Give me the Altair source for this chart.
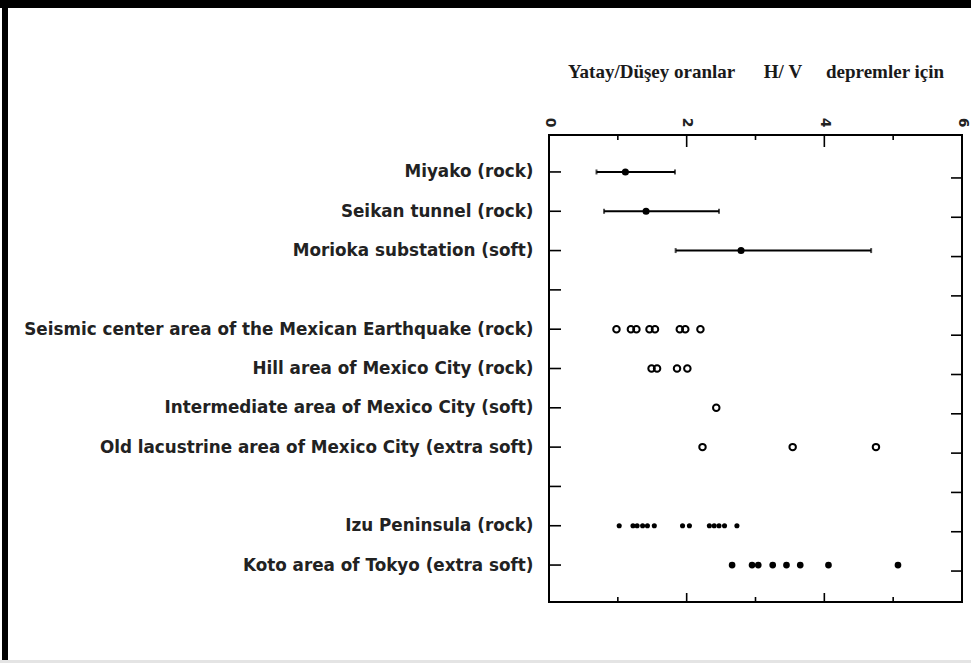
import altair as alt
import pandas as pd

# ---- data ----
rows = [
    "Miyako (rock)",
    "Seikan tunnel (rock)",
    "Morioka substation (soft)",
    " ",
    "Seismic center area of the Mexican Earthquake (rock)",
    "Hill area of Mexico City (rock)",
    "Intermediate area of Mexico City (soft)",
    "Old lacustrine area of Mexico City (extra soft)",
    "  ",
    "Izu Peninsula (rock)",
    "Koto area of Tokyo (extra soft)",
]

range_sites = ["Miyako (rock)", "Seikan tunnel (rock)", "Morioka substation (soft)"]
range_center = [1.11, 1.41, 2.79]
range_low = [0.69, 0.80, 1.84]
range_high = [1.83, 2.47, 4.68]

open_seismic = [0.98, 1.19, 1.27, 1.46, 1.54, 1.90, 1.98, 2.20]
open_hill = [1.49, 1.57, 1.86, 2.01]
open_intermediate = [2.43]
open_old = [2.23, 3.54, 4.75]

dots_izu = [1.02, 1.22, 1.28, 1.36, 1.43, 1.53, 1.94, 2.04, 2.33, 2.40, 2.47, 2.55, 2.73]
dots_koto = [2.66, 2.95, 3.04, 3.25, 3.45, 3.65, 4.06, 5.07]

axis_labels = [0, 2, 4, 6]
major_ticks = [2, 4]
minor_ticks = [1, 3, 5]

NB = "\u00a0"
x_title = "Yatay/Düşey oranlar" + NB * 6 + "H/" + NB + "V" + NB * 5 + "depremler için"

# ---- tables ----
W, H = 413, 467
PAD_L, PAD_T = 549, 135

ranges = pd.DataFrame({"site": range_sites, "center": range_center,
                       "low": range_low, "high": range_high})
ends = pd.DataFrame({"site": range_sites * 2, "low": range_low + range_high})

open_df = pd.DataFrame({
    "site": ([rows[4]] * len(open_seismic) + [rows[5]] * len(open_hill)
             + [rows[6]] * len(open_intermediate) + [rows[7]] * len(open_old)),
    "low": open_seismic + open_hill + open_intermediate + open_old,
})
izu_df = pd.DataFrame({"site": [rows[9]] * len(dots_izu), "low": dots_izu})
koto_df = pd.DataFrame({"site": [rows[10]] * len(dots_koto), "low": dots_koto})
rows_df = pd.DataFrame({"site": rows})
major_df = pd.DataFrame({"low": major_ticks})
minor_df = pd.DataFrame({"low": minor_ticks})
one = pd.DataFrame({"a": [0]})

xscale = alt.Scale(domain=[0, 6], nice=False, zero=False)
yscale = alt.Scale(domain=rows, type="point", padding=0.94)

x_axis = alt.Axis(
    orient="top", values=axis_labels, labelAngle=90, ticks=False, tickSize=0,
    domain=False, grid=False, labelFont="DejaVu Sans", labelFontSize=14,
    labelFontWeight="bold", labelColor="#222", labelPadding=8, title=x_title,
    titleFont="Liberation Serif", titleFontSize=19, titleFontWeight="bold",
    titleColor="#1a1a1a", titlePadding=36,
)
y_axis = alt.Axis(
    title=None, ticks=False, tickSize=0, domain=False, grid=False,
    labelFont="DejaVu Sans", labelFontSize=16.8, labelFontWeight="bold",
    labelColor="#222", labelPadding=16, labelLimit=700,
)

X = alt.X("low:Q", scale=xscale, axis=x_axis)
Y = alt.Y("site:N", scale=yscale, sort=rows, axis=y_axis)

range_lines = alt.Chart(ranges).mark_rule(color="black", strokeWidth=2).encode(
    x=X, x2="high:Q", y=Y,
)
range_caps = alt.Chart(ends).mark_tick(color="black", size=5, thickness=2).encode(x=X, y=Y)
range_dots = alt.Chart(ranges).mark_circle(color="black", size=50, opacity=1).encode(
    x=alt.X("center:Q", scale=xscale, axis=x_axis), y=Y,
)
open_pts = alt.Chart(open_df).mark_point(
    shape="circle", filled=False, color="black", size=42, strokeWidth=2, opacity=1
).encode(x=X, y=Y)
izu_pts = alt.Chart(izu_df).mark_circle(color="black", size=26, opacity=1).encode(x=X, y=Y)
koto_pts = alt.Chart(koto_df).mark_circle(color="black", size=45, opacity=1).encode(x=X, y=Y)

left_ticks = alt.Chart(rows_df).mark_rule(color="black", strokeWidth=1.6).encode(
    y=Y, x=alt.value(0), x2=alt.value(12),
)
right_ticks = alt.Chart(rows_df).mark_rule(color="black", strokeWidth=1.6, yOffset=6).encode(
    y=Y, x=alt.value(W - 11), x2=alt.value(W),
)
top_major = alt.Chart(major_df).mark_rule(color="black", strokeWidth=1.6).encode(
    x=X, y=alt.value(0), y2=alt.value(12))
top_minor = alt.Chart(minor_df).mark_rule(color="black", strokeWidth=1.6).encode(
    x=X, y=alt.value(0), y2=alt.value(5))
bot_major = alt.Chart(major_df).mark_rule(color="black", strokeWidth=1.6).encode(
    x=X, y=alt.value(H), y2=alt.value(H - 9))
bot_minor = alt.Chart(minor_df).mark_rule(color="black", strokeWidth=1.6).encode(
    x=X, y=alt.value(H), y2=alt.value(H - 5))

# scanned-page frame
frame_top = alt.Chart(one).mark_rect(color="black").encode(
    x=alt.value(-PAD_L), x2=alt.value(971 - PAD_L),
    y=alt.value(-PAD_T), y2=alt.value(-PAD_T + 8))
frame_left = alt.Chart(one).mark_rect(color="black").encode(
    x=alt.value(-PAD_L + 2), x2=alt.value(-PAD_L + 8),
    y=alt.value(-PAD_T), y2=alt.value(663 - PAD_T))
frame_bottom = alt.Chart(one).mark_rect(color="#e4e4e4").encode(
    x=alt.value(-PAD_L), x2=alt.value(971 - PAD_L),
    y=alt.value(660 - PAD_T), y2=alt.value(663 - PAD_T))

chart = alt.layer(
    range_lines, range_caps, range_dots, open_pts, izu_pts, koto_pts,
    left_ticks, right_ticks, top_major, top_minor, bot_major, bot_minor,
    frame_top, frame_left, frame_bottom,
).properties(
    width=W, height=H,
    padding={"left": PAD_L, "top": PAD_T, "right": 971 - PAD_L - W, "bottom": 663 - PAD_T - H},
    autosize=alt.AutoSizeParams(type="none"),
    background="white",
).configure_view(stroke="black", strokeWidth=2)

chart.save("out.html", embed_options={"renderer": "svg", "actions": False})
